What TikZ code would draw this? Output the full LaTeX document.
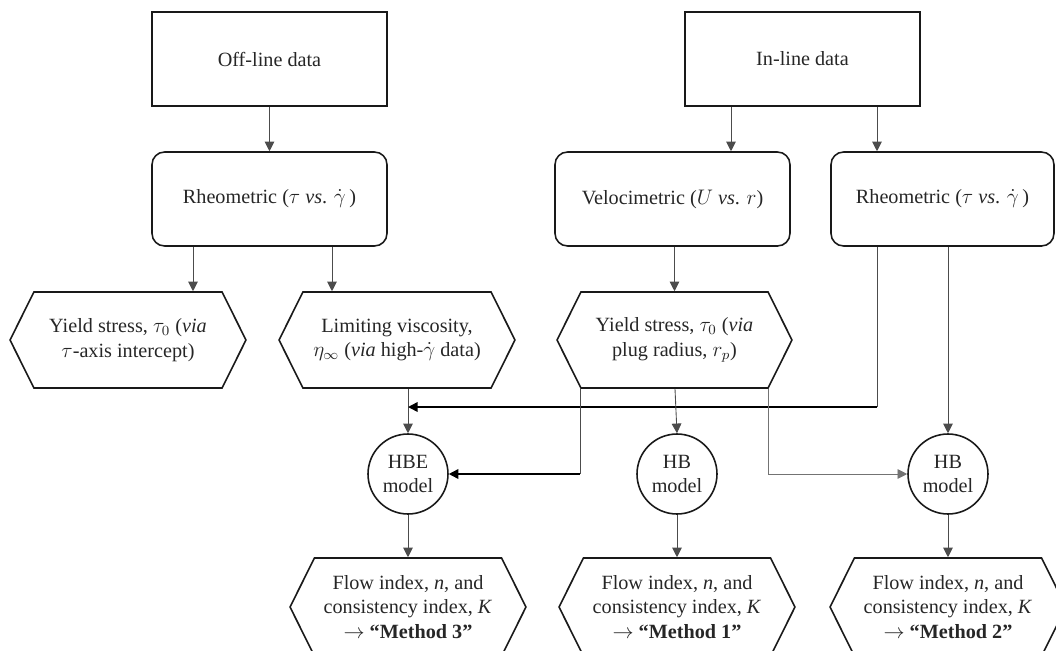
\documentclass[tikz,border=0pt]{standalone}
\usepackage{fontspec}
\setmainfont{Liberation Serif}
\usetikzlibrary{arrows.meta,shapes.symbols}

\tikzset{
  base/.style={draw=black!90, line width=0.9pt, align=center, text=black!85,
    font=\fontsize{11.5}{14}\selectfont, inner sep=2pt},
  databox/.style={base, rectangle, minimum width=4.7cm, minimum height=1.88cm},
  rbox/.style={base, rectangle, rounded corners=0.25cm, minimum width=4.7cm, minimum height=1.88cm},
  hexbox/.style={base, signal, signal to=west and east, signal pointer angle=127,
    minimum width=4.72cm, minimum height=1.92cm},
  model/.style={base, circle, minimum size=1.6cm, inner sep=0pt},
  arr/.style={-{Triangle[length=5.5pt,width=5.5pt]}, draw=black!70, line width=0.5pt},
  link/.style={draw=black!70, line width=0.5pt},
  feed/.style={arr, draw=black, line width=0.9pt},
}

\begin{document}
\begin{tikzpicture}[x=0.02cm,y=-0.02cm]
\useasboundingbox (0,0) rectangle (1056,650);

% sources
\node[databox] (offline) at (269.5,59) {Off-line data};
\node[databox] (inline) at (802.5,59) {In-line data};

% measurements
\node[rbox] (rheoL) at (269.5,199) {Rheometric ($\tau$ \textit{vs}. $\dot{\gamma}\,$)};
\node[rbox] (velo) at (672.5,199) {Velocimetric ($U$ \textit{vs}. $r$)};
\node[rbox, minimum width=4.46cm] (rheoR) at (942.5,199) {Rheometric ($\tau$ \textit{vs}. $\dot{\gamma}\,$)};

% derived quantities
\node[hexbox] (yieldA) at (128,340) {Yield stress, $\tau_0$ (\textit{via}\\$\tau$-axis intercept)};
\node[hexbox] (limit) at (397,340) {Limiting viscosity,\\$\eta_\infty$ (\textit{via} high-$\dot{\gamma}$ data)};
\node[hexbox, minimum width=4.7cm] (yieldB) at (674.5,340) {Yield stress, $\tau_0$ (\textit{via}\\plug radius, $r_p$)};

% models
\node[model] (hbe) at (408,474) {HBE\\model};
\node[model] (hbM) at (677,474) {HB\\model};
\node[model] (hbR) at (948,474) {HB\\model};

% results
\node[hexbox, minimum height=1.96cm] (flow3) at (408,607) {Flow index, \textit{n}, and\\consistency index, \textit{K}\\$\rightarrow$ \textbf{``Method 3''}};
\node[hexbox, minimum height=1.96cm] (flow1) at (677,607) {Flow index, \textit{n}, and\\consistency index, \textit{K}\\$\rightarrow$ \textbf{``Method 1''}};
\node[hexbox, minimum height=1.96cm] (flow2) at (948,607) {Flow index, \textit{n}, and\\consistency index, \textit{K}\\$\rightarrow$ \textbf{``Method 2''}};

% columns of the connectors
\coordinate (xa) at (193,0);
\coordinate (xb) at (332,0);
\coordinate (xc) at (408,0);
\coordinate (xd) at (580,0);
\coordinate (xe) at (675,0);
\coordinate (xf) at (731,0);
\coordinate (xg) at (768,0);
\coordinate (xh) at (877,0);
\coordinate (xi) at (948,0);
\coordinate (ya) at (0,407);

\draw[arr] (offline.south -| rheoL.north) -- (rheoL.north);
\draw[arr] (inline.south -| xf) -- (velo.north -| xf);
\draw[arr] (inline.south -| xh) -- (rheoR.north -| xh);
\draw[arr] (rheoL.south -| xa) -- (yieldA.north -| xa);
\draw[arr] (rheoL.south -| xb) -- (limit.north -| xb);
\draw[arr] (velo.south -| yieldB.north) -- (yieldB.north);
\draw[arr] (limit.south -| xc) -- (hbe.north);
\draw[link] (rheoR.south -| xh) -- (xh |- ya);
\draw[feed] (xh |- ya) -- (xc |- ya);
\draw[arr] (rheoR.south -| xi) -- (hbR.north);
\draw[link] (yieldB.south -| xd) -- (xd |- hbe.east);
\draw[feed] (xd |- hbe.east) -- (hbe.east);
\draw[arr] (yieldB.south -| xe) -- (hbM.north);
\draw[arr, draw=black!55] (yieldB.south -| xg) |- (hbR.west);
\draw[arr] (hbe.south) -- (flow3.north);
\draw[arr] (hbM.south) -- (flow1.north);
\draw[arr] (hbR.south) -- (flow2.north);

\end{tikzpicture}
\end{document}
